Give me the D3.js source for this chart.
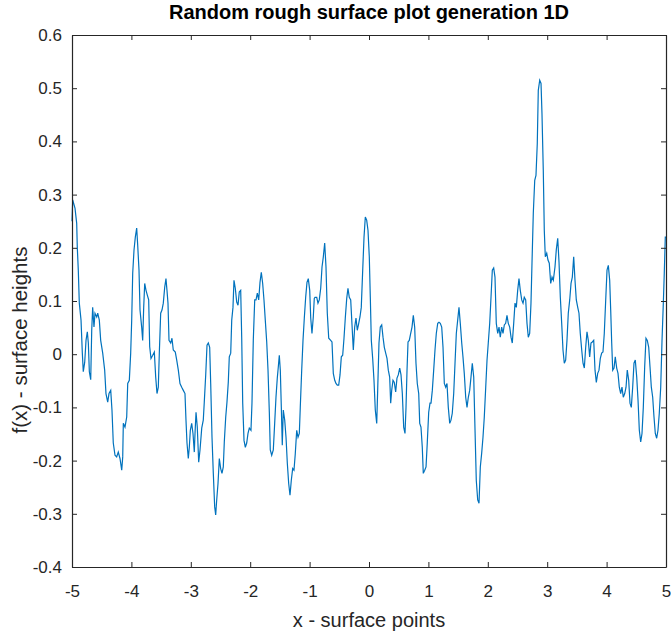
<!DOCTYPE html>
<html><head><meta charset="utf-8">
<script src="https://cdn.jsdelivr.net/npm/d3@7"></script>
<style>
html,body{margin:0;padding:0;background:#fff;}
svg{display:block;}
text{font-family:"Liberation Sans",Arial,Helvetica,sans-serif;}
</style></head>
<body>
<svg id="chart" width="671" height="639"></svg>
<script>
const chartTitle = "Random rough surface plot generation 1D";
const xLabel = "x - surface points";
const yLabel = "f(x) - surface heights";
const xTicks = [-5,-4,-3,-2,-1,0,1,2,3,4,5];
const yTicks = [-0.4,-0.3,-0.2,-0.1,0,0.1,0.2,0.3,0.4,0.5,0.6];

const xValues = [
-5.000,-4.988,-4.949,-4.921,-4.911,-4.894,-4.877,-4.848,-4.826,-4.810,-4.786,-4.764,-4.742,-4.725,-4.708,-4.685,-4.668,-4.652,-4.630,-4.613,
-4.584,-4.567,-4.540,-4.517,-4.483,-4.450,-4.428,-4.399,-4.377,-4.348,-4.327,-4.305,-4.276,-4.248,-4.221,-4.192,-4.163,-4.146,-4.136,-4.108,
-4.079,-4.062,-4.035,-4.012,-3.995,-3.978,-3.956,-3.934,-3.911,-3.894,-3.872,-3.855,-3.827,-3.810,-3.793,-3.776,-3.754,-3.732,-3.709,-3.692,
-3.670,-3.641,-3.614,-3.591,-3.569,-3.547,-3.530,-3.507,-3.485,-3.463,-3.439,-3.418,-3.401,-3.384,-3.367,-3.338,-3.317,-3.295,-3.261,-3.237,
-3.210,-3.182,-3.153,-3.126,-3.098,-3.081,-3.064,-3.042,-3.025,-3.008,-2.985,-2.963,-2.941,
-2.929,-2.912,-2.891,-2.867,-2.845,-2.816,-2.790,-2.773,-2.749,-2.727,-2.705,-2.682,-2.665,-2.643,-2.621,-2.598,-2.581,-2.564,-2.542,-2.520,
-2.497,-2.475,-2.453,-2.436,-2.412,-2.391,-2.369,-2.352,-2.328,-2.311,-2.290,-2.273,-2.251,-2.227,-2.205,-2.184,-2.160,-2.143,-2.126,-2.104,
-2.082,-2.059,-2.037,-2.015,-1.987,-1.970,-1.948,-1.924,-1.902,-1.880,-1.857,-1.835,-1.813,-1.790,-1.768,-1.746,-1.722,-1.700,-1.678,-1.662,
-1.638,-1.611,-1.588,-1.566,-1.544,-1.527,-1.510,-1.493,-1.476,-1.460,-1.443,-1.419,-1.397,-1.375,-1.352,-1.330,-1.308,-1.285,-1.263,-1.241,
-1.217,-1.195,-1.173,-1.157,-1.133,-1.111,-1.089,-1.066,-1.044,-1.022,-0.998,-0.981,-0.960,-0.938,-0.921,
-0.909,-0.880,-0.859,-0.837,-0.813,-0.791,-0.769,-0.746,-0.724,-0.702,-0.678,-0.645,-0.623,-0.601,-0.577,-0.556,-0.534,-0.510,-0.488,-0.466,
-0.443,-0.421,-0.399,-0.375,-0.354,-0.332,-0.308,-0.286,-0.264,-0.241,-0.219,-0.197,-0.173,-0.152,-0.130,-0.106,-0.084,-0.062,-0.039,-0.017,
0.005,0.022,0.039,0.062,0.084,0.106,0.130,0.146,0.168,0.190,0.214,0.236,0.258,0.281,0.303,0.325,0.348,0.365,0.382,0.404,
0.426,0.449,0.471,0.493,0.517,0.539,0.561,0.584,0.606,0.623,0.640,0.657,0.678,0.702,0.724,0.746,0.769,0.791,0.813,0.837,
0.854,0.875,0.897,0.914,0.938,0.960,0.981,1.005,1.027,
1.044,1.066,1.089,1.111,1.133,1.157,1.178,1.200,1.224,1.246,1.268,1.291,1.313,1.335,1.359,1.380,1.402,1.426,1.448,1.470,
1.493,1.515,1.537,1.561,1.582,1.604,1.628,1.650,1.672,1.695,1.717,1.739,1.763,1.785,1.806,1.830,1.852,1.874,1.897,1.919,
1.941,1.965,1.987,2.008,2.032,2.054,2.076,2.099,2.121,2.143,2.167,2.189,2.210,2.234,2.256,2.278,2.301,2.323,2.345,2.369,
2.391,2.412,2.436,2.458,2.480,2.503,2.525,2.547,2.571,2.593,2.614,2.638,2.660,2.682,2.705,2.727,2.744,2.766,2.790,2.811,
2.833,2.850,2.874,2.896,2.912,2.934,2.951,2.968,2.992,3.013,3.035,3.059,3.081,3.103,
3.131,3.153,3.177,3.199,3.221,3.244,3.266,3.288,3.311,3.333,3.355,3.379,3.401,3.423,3.446,3.468,3.490,3.514,3.535,3.557,
3.581,3.603,3.625,3.648,3.670,3.692,3.715,3.737,3.759,3.783,3.805,3.827,3.850,3.872,3.894,3.917,3.939,3.961,3.985,4.007,
4.029,4.052,4.069,4.086,4.103,4.125,4.146,4.170,4.192,4.214,4.237,4.259,4.281,4.305,4.327,4.348,4.372,4.394,4.416,4.439,
4.461,4.483,4.507,4.529,4.551,4.574,4.596,4.618,4.641,4.663,4.685,4.709,4.731,4.753,4.776,4.798,4.820,4.843,4.865,4.887,
4.911,4.933,4.955,4.971,4.988,5.000
];

const yValues = [
0.250,0.290,0.274,0.246,0.201,0.158,0.096,0.064,0.002,-0.033,-0.015,0.026,0.042,0.021,-0.033,-0.048,0.045,0.088,0.051,0.077,
0.070,0.077,0.064,0.026,0.002,-0.030,-0.074,-0.090,-0.074,-0.068,-0.105,-0.167,-0.190,-0.193,-0.184,-0.196,-0.218,-0.193,-0.130,-0.137,
-0.118,-0.055,-0.049,0.002,0.064,0.152,0.196,0.220,0.237,0.205,0.158,0.083,0.051,0.026,0.088,0.133,0.120,0.111,0.102,0.014,
-0.008,-0.002,0.004,-0.043,-0.074,-0.062,0.002,0.077,0.083,0.096,0.126,0.142,0.120,0.096,0.026,0.021,0.030,0.008,0.004,-0.011,
-0.030,-0.055,-0.062,-0.068,-0.074,-0.124,-0.167,-0.196,-0.175,-0.143,-0.130,-0.149,-0.184,
-0.149,-0.109,-0.137,-0.203,-0.180,-0.139,-0.124,-0.090,-0.039,0.017,0.021,0.013,-0.055,-0.156,-0.224,-0.287,-0.302,-0.274,-0.243,-0.196,
-0.215,-0.224,-0.212,-0.165,-0.118,-0.090,-0.053,-0.005,0.002,0.064,0.088,0.139,0.124,0.098,0.092,0.117,0.120,0.032,-0.092,-0.162,
-0.175,-0.167,-0.149,-0.139,-0.143,-0.092,0.026,0.102,0.102,0.115,0.102,0.135,0.154,0.133,0.102,0.064,0.023,-0.030,-0.109,-0.180,
-0.190,-0.180,-0.130,-0.081,-0.045,-0.024,-0.002,-0.030,-0.100,-0.171,-0.105,-0.124,-0.156,-0.205,-0.243,-0.265,-0.237,-0.215,-0.218,-0.187,
-0.143,-0.156,-0.149,-0.100,-0.030,0.026,0.068,0.107,0.135,0.142,0.120,0.068,0.039,0.070,0.105,
0.107,0.107,0.096,0.102,0.124,0.164,0.183,0.209,0.164,0.077,0.030,0.026,0.023,-0.036,-0.049,-0.055,-0.058,-0.058,-0.039,-0.005,
-0.002,0.030,0.068,0.105,0.124,0.107,0.102,0.055,0.008,0.051,0.068,0.045,0.058,0.070,0.088,0.158,0.220,0.258,0.252,0.233,
0.183,0.107,0.026,-0.008,-0.049,-0.105,-0.130,-0.068,0.021,0.051,0.055,0.032,0.013,0.002,-0.008,-0.030,-0.043,-0.092,-0.068,-0.049,
-0.053,-0.071,-0.045,-0.039,-0.026,-0.039,-0.074,-0.137,-0.149,-0.100,-0.030,0.023,0.026,0.039,0.051,0.073,0.051,-0.017,-0.055,-0.074,
-0.130,-0.137,-0.175,-0.224,-0.218,-0.212,-0.167,-0.109,-0.092,
-0.092,-0.068,-0.030,0.008,0.039,0.058,0.060,0.058,0.051,0.013,-0.055,-0.062,-0.055,-0.100,-0.130,-0.124,-0.111,-0.074,-0.017,0.039,
0.064,0.088,0.058,0.021,-0.005,-0.036,-0.081,-0.100,-0.081,-0.068,-0.043,-0.017,-0.043,-0.143,-0.237,-0.274,-0.280,-0.212,-0.186,-0.156,
-0.118,-0.062,-0.011,0.021,0.058,0.107,0.158,0.162,0.145,0.058,0.039,0.051,0.032,0.051,0.039,0.055,0.058,0.073,0.058,0.051,
0.032,0.021,0.058,0.096,0.088,0.120,0.142,0.120,0.102,0.096,0.107,0.102,0.058,0.032,0.039,0.096,0.171,0.265,0.327,0.336,
0.396,0.496,0.515,0.509,0.453,0.346,0.233,0.183,0.190,0.177,0.171,0.133,0.145,0.139,
0.164,0.196,0.218,0.173,0.107,0.058,0.008,-0.017,-0.011,0.026,0.077,0.102,0.133,0.145,0.183,0.139,0.102,0.088,0.077,0.039,
0.008,-0.017,-0.026,0.013,0.042,0.026,-0.005,0.021,0.023,0.026,-0.030,-0.053,-0.036,-0.030,-0.008,0.002,0.004,0.039,0.102,0.158,
0.167,0.139,0.083,0.021,-0.030,-0.026,-0.005,-0.026,-0.036,-0.062,-0.074,-0.062,-0.081,-0.074,-0.062,-0.030,-0.049,-0.092,-0.100,-0.062,
-0.017,-0.011,-0.043,-0.086,-0.143,-0.165,-0.149,-0.100,-0.024,0.030,0.026,0.013,-0.024,-0.062,-0.081,-0.118,-0.149,-0.158,-0.143,-0.111,
-0.062,0.026,0.096,0.152,0.220,0.220
];

const W = 671, H = 639;
const margin = {left: 72, right: 5, top: 35, bottom: 72};
const x0 = margin.left, x1 = W - margin.right;
const y0 = margin.top, y1 = H - margin.bottom;
const axisColor = "#262626";

const svg = d3.select("#chart");
const x = d3.scaleLinear().domain([-5, 5]).range([x0, x1]);
const y = d3.scaleLinear().domain([-0.4, 0.6]).range([y1, y0]);

const data = xValues.map((v, i) => ({x: v, y: yValues[i]}));

// line
svg.append("path")
  .datum(data)
  .attr("fill", "none")
  .attr("stroke", "#0072BD")
  .attr("stroke-width", 1.2)
  .attr("stroke-linejoin", "miter")
  .attr("d", d3.line().x(d => x(d.x)).y(d => y(d.y)));

const tickLen = 5;
const fmtX = d => String(d);
const fmtY = d => (Math.abs(d) < 1e-9 ? "0" : d.toFixed(1));

// bottom axis (ticks inward)
const gB = svg.append("g").attr("transform", `translate(0,${y1})`)
  .call(d3.axisBottom(x).tickValues(xTicks).tickFormat(fmtX).tickSizeInner(-tickLen).tickSizeOuter(0).tickPadding(18));
// top axis ticks
const gT = svg.append("g").attr("transform", `translate(0,${y0})`)
  .call(d3.axisTop(x).tickValues(xTicks).tickFormat("").tickSizeInner(-tickLen).tickSizeOuter(0));
// left axis
const gL = svg.append("g").attr("transform", `translate(${x0},0)`)
  .call(d3.axisLeft(y).tickValues(yTicks).tickFormat(fmtY).tickSizeInner(-tickLen).tickSizeOuter(0).tickPadding(10));
// right axis
const gR = svg.append("g").attr("transform", `translate(${x1},0)`)
  .call(d3.axisRight(y).tickValues(yTicks).tickFormat("").tickSizeInner(-tickLen).tickSizeOuter(0));

[gB, gT, gL, gR].forEach(g => {
  g.select(".domain").attr("stroke", axisColor).attr("stroke-width", 1.2);
  g.selectAll(".tick line").attr("stroke", axisColor).attr("stroke-width", 1);
  g.selectAll(".tick text").attr("fill", axisColor)
    .style("font-size", "17px").style("font-family", '"Liberation Sans", Arial, sans-serif');
});

// title
svg.append("text")
  .attr("x", (x0 + x1) / 2).attr("y", 19)
  .attr("text-anchor", "middle")
  .style("font-size", "20px").style("font-weight", "bold")
  .attr("fill", "#000")
  .text(chartTitle);

// x label
svg.append("text")
  .attr("x", (x0 + x1) / 2).attr("y", 627)
  .attr("text-anchor", "middle")
  .style("font-size", "20px")
  .attr("fill", axisColor)
  .text(xLabel);

// y label
svg.append("text")
  .attr("transform", `translate(27,340) rotate(-90)`)
  .attr("text-anchor", "middle")
  .style("font-size", "20.5px")
  .attr("fill", axisColor)
  .text(yLabel);
</script>
</body></html>
